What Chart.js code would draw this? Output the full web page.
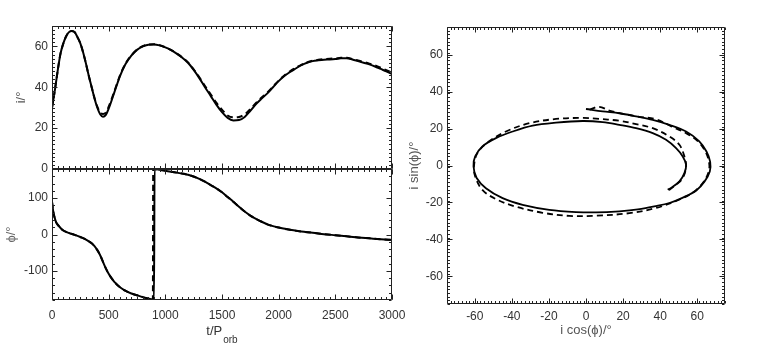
<!DOCTYPE html>
<html><head><meta charset="utf-8">
<script src="https://cdn.jsdelivr.net/npm/chart.js@4"></script>
<style>
html,body{margin:0;padding:0;background:#fff;}
#wrap{position:relative;width:763px;height:344px;overflow:hidden;background:#fff;}
canvas{position:absolute;left:0;top:0;}
</style></head><body>
<div id="wrap">
<canvas id="cI" width="763" height="344"></canvas>
<canvas id="cP" width="763" height="344"></canvas>
<canvas id="cXY" width="763" height="344"></canvas>
</div>
<script>
// ---- Top-left: inclination i vs t/P_orb ----
const tI = [0,25,50,75,100,125,150,175,200,225,250,275,300,325,350,375,400,425,450,475,500,550,600,650,700,750,800,850,900,950,1000,1050,1100,1150,1200,1250,1300,1350,1400,1450,1500,1550,1600,1650,1700,1750,1800,1850,1900,1950,2000,2050,2100,2150,2200,2250,2300,2350,2400,2450,2500,2550,2600,2650,2700,2750,2800,2850,2900,2950,3000];
const iSolid = [30,38.5,48,56.5,61.5,65,67,67.6,67,64.5,61.5,57,51.5,45.5,40,34.5,30,26.8,25.6,26.5,29.5,37.5,45.5,51.5,55.5,58.3,60,60.8,61,60.5,59.5,58.2,56.5,54.5,52,48.5,44.5,40,35.8,31.5,27.8,25,23.8,24,25.5,28.5,31.8,34.5,37,40,43,45.5,47.5,49.2,50.8,52,52.8,53.2,53.5,53.6,53.8,54.2,54.2,53.6,52.8,52,51.2,50.2,49,47.8,46.5];
const iDashed = [30,38.5,48,56.5,61.5,65,67,67.6,67,64.5,61.5,57,51.5,45.5,40,34.8,30.5,27.6,26.9,27.6,30.5,38,45.8,51.7,55.6,58.4,60.1,60.9,61.1,60.6,59.6,58.3,56.6,54.6,52.2,48.8,44.9,40.6,36.6,32.5,29,26.2,25.3,25.5,26.7,29.3,32.3,35,37.4,40.3,43.3,45.8,47.8,49.5,51,52.2,53,53.5,53.8,54,54.1,54.4,54.4,53.9,53.1,52.4,51.6,50.7,49.6,48.4,47.2];
const iTicks = [0,20,40,60];

// ---- Bottom-left: phase phi vs t/P_orb ----
const tPhiSolid = [0,10,20,35,50,75,100,150,200,250,300,350,375,400,425,450,475,500,525,550,600,650,700,750,800,850,900,905,950,1000,1100,1200,1300,1350,1400,1450,1500,1550,1600,1650,1700,1750,1800,1850,1900,1950,2000,2100,2200,2300,2400,2500,2600,2700,2800,2900,3000];
const phiSolid = [90,65,50,35,27,18,11,4,-1,-7,-14,-24,-32,-43,-57,-75,-93,-108,-120,-130,-145,-155,-162,-167,-172,-176,-179,180,178,175,170,164,153,145,136,127,116,103,90,76,63,52,43,35,28,23,19,13,8,5,1,-2,-5,-8,-10.5,-13,-15];
const tPhiDashed = [0,10,20,35,50,75,100,150,200,250,300,350,375,400,425,450,475,500,525,550,600,650,700,750,800,850,890,893,950,1000,1100,1200,1300,1350,1400,1450,1500,1550,1600,1650,1700,1750,1800,1850,1900,1950,2000,2100,2200,2300,2400,2500,2600,2700,2800,2900,3000];
const phiDashed = [90,65,50,35,27,18,11,4,-1,-7,-14,-24,-32,-43,-57,-75,-93,-108,-120,-130,-145,-155,-162,-167,-172,-176,-179,180,178,175,170,164,153,145,136,127,116,103,90,76,63,52,43,35,28,23,19,13,8,5,1,-2,-5,-8,-10.5,-13,-15];
const phiTicks = [-100,0,100];
const tTicks = [0,500,1000,1500,2000,2500,3000];

// ---- Right: i sin(phi) vs i cos(phi) ----
const xySolidX = [0,9,18,27,36,45,54,61,65,67,66.8,64,59.5,52,45,37.8,28,18,5.4,-5.4,-19.8,-34.2,-45,-54,-59,-60.7,-59.8,-55.9,-48.6,-39.6,-28.8,-16.2,-1.8,9,18,27,36,43.2,48.6,52.2,54,53.1,50.4,45.9,44.1];
const xySolidY = [30.6,29.3,28.3,26.6,24.7,22,18.4,13.2,7.6,2,-3.2,-8.6,-13.5,-17.5,-20.3,-22,-23.8,-24.8,-25.4,-25.2,-24,-21.3,-17.7,-12.3,-6.8,-0.5,4.9,10.3,14.8,18.4,21.6,23.2,24.1,23.5,22,20.2,17.5,13.9,9.4,4.9,0.4,-4.1,-8.6,-12.2,-13.1];
const xyDashedX = [2,7,13,20,28,37.8,46,54,60,64.5,66.5,66,63,57.5,48.6,37.8,23.4,5.4,-9,-23.4,-37.8,-48.6,-55.9,-59.8,-60.4,-58.6,-53.2,-43.2,-30.6,-16.2,-1.8,5.4,18,27,36,45,50.4,53.1,54,52.2,48.6,45,43.5];
const xyDashedY = [30.2,31.8,29.6,28,26.5,25,21.2,17.5,13.5,7.5,1,-4,-9.5,-14.8,-19.2,-23,-25.8,-27.2,-27.3,-25.6,-22.3,-18.2,-13.2,-5.9,0,6.7,12.4,18.4,22.9,25.2,25.8,25.4,24.2,22.4,20.2,15.7,11.2,4.9,-0.5,-6.8,-10.4,-13.1,-14];
const xyTicks = [-60,-40,-20,0,20,40,60];

Chart.defaults.font.family = '"Liberation Sans", Arial, Helvetica, sans-serif';
Chart.defaults.font.size = 12;
Chart.defaults.color = '#333';

const pts = (xs, ys) => xs.map((v, k) => ({x: v, y: ys[k]}));
const plain = v => String(v);

// Frame with inward major/minor ticks on all four sides (IDL style)
const frameTicks = {
  id: 'frameTicks',
  afterDatasetsDraw(chart, args, o) {
    const {ctx, chartArea: a, scales: {x: xs, y: ys}} = chart;
    ctx.save();
    ctx.strokeStyle = '#222';
    ctx.lineWidth = 1;
    ctx.beginPath();
    ctx.rect(Math.round(a.left) + 0.5, Math.round(a.top) + 0.5, Math.round(a.right) - Math.round(a.left) - 1, Math.round(a.bottom) - Math.round(a.top) - 1);
    ctx.stroke();
    const L = Math.round(a.left) + 0.5, R = Math.round(a.right) - 0.5, T = Math.round(a.top) + 0.5, B = Math.round(a.bottom) - 0.5;
    const xt = (v, len) => { const p = Math.round(xs.getPixelForValue(v)) + 0.5; ctx.moveTo(p, B); ctx.lineTo(p, B - len); ctx.moveTo(p, T); ctx.lineTo(p, T + len); };
    const yt = (v, len) => { const p = Math.round(ys.getPixelForValue(v)) + 0.5; ctx.moveTo(L, p); ctx.lineTo(L + len, p); ctx.moveTo(R, p); ctx.lineTo(R - len, p); };
    ctx.beginPath();
    for (let v = xs.min; v <= xs.max + 1e-9; v += o.xMinor) xt(v, 2.5);
    for (let v = ys.min; v <= ys.max + 1e-9; v += o.yMinor) yt(v, 2.5);
    o.xMajor.forEach(v => xt(v, 5));
    o.yMajor.forEach(v => yt(v, 5));
    ctx.stroke();
    ctx.restore();
  }
};

// x-axis title with subscript: t/P_orb
const subTitle = {
  id: 'subTitle',
  afterDraw(chart, args, o) {
    const {ctx, chartArea: a} = chart;
    ctx.save();
    ctx.fillStyle = '#333';
    ctx.textBaseline = 'alphabetic';
    ctx.textAlign = 'left';
    const ff = Chart.defaults.font.family;
    ctx.font = '13px ' + ff;
    const w1 = ctx.measureText(o.main).width;
    ctx.font = '10px ' + ff;
    const w2 = ctx.measureText(o.sub).width;
    const x0 = (a.left + a.right) / 2 - (w1 + w2 + 1) / 2;
    ctx.font = '13px ' + ff;
    ctx.fillText(o.main, x0, a.bottom + 35);
    ctx.font = '10px ' + ff;
    ctx.fillText(o.sub, x0 + w1 + 1, a.bottom + 42.5);
    ctx.restore();
  }
};

const solidStyle = {showLine: true, borderColor: '#000', backgroundColor: '#000', borderWidth: 2, pointRadius: 0};
const dashedStyle = {showLine: true, borderColor: '#000', backgroundColor: '#000', borderWidth: 2, pointRadius: 0, borderDash: [6, 4]};
const base = {responsive: false, animation: false, events: []};
const noGrid = {display: false, drawTicks: false};

new Chart(document.getElementById('cI'), {
  type: 'scatter',
  data: {datasets: [
    Object.assign({data: pts(tI, iSolid), cubicInterpolationMode: 'monotone'}, solidStyle),
    Object.assign({data: pts(tI, iDashed), cubicInterpolationMode: 'monotone'}, dashedStyle)
  ]},
  options: Object.assign({}, base, {
    layout: {padding: {left: 0, top: 26, right: 371, bottom: 175}},
    plugins: {legend: {display: false}, tooltip: {enabled: false},
      frameTicks: {xMajor: tTicks, xMinor: 50, yMajor: iTicks, yMinor: 2}},
    scales: {
      x: {type: 'linear', display: false, min: 0, max: 3000},
      y: {type: 'linear', min: 0, max: 70,
        afterFit: s => { s.width = 52; },
        afterBuildTicks: s => { s.ticks = iTicks.map(v => ({value: v})); },
        grid: noGrid, border: {display: false},
        ticks: {padding: 4, color: '#333', font: {size: 12}, callback: plain},
        title: {display: true, text: 'i/°', color: '#555', font: {size: 13}, padding: {top: 14, bottom: 0}}}
    }
  }),
  plugins: [frameTicks]
});

new Chart(document.getElementById('cP'), {
  type: 'scatter',
  data: {datasets: [
    Object.assign({data: pts(tPhiSolid, phiSolid), cubicInterpolationMode: 'monotone'}, solidStyle),
    Object.assign({data: pts(tPhiDashed, phiDashed), cubicInterpolationMode: 'monotone'}, dashedStyle)
  ]},
  options: Object.assign({}, base, {
    layout: {padding: {left: 0, top: 169, right: 371, bottom: 0}},
    plugins: {legend: {display: false}, tooltip: {enabled: false},
      frameTicks: {xMajor: tTicks, xMinor: 50, yMajor: phiTicks, yMinor: 20},
      subTitle: {main: 't/P', sub: 'orb'}},
    scales: {
      x: {type: 'linear', min: 0, max: 3000,
        afterFit: s => { s.height = 44; },
        afterBuildTicks: s => { s.ticks = tTicks.map(v => ({value: v})); },
        grid: noGrid, border: {display: false},
        ticks: {padding: 8, maxRotation: 0, autoSkip: false, color: '#333', font: {size: 12}, callback: plain}},
      y: {type: 'linear', min: -180, max: 180,
        afterFit: s => { s.width = 52; },
        afterBuildTicks: s => { s.ticks = phiTicks.map(v => ({value: v})); },
        grid: noGrid, border: {display: false},
        ticks: {padding: 4, color: '#333', font: {size: 12}, callback: plain},
        title: {display: true, text: 'ϕ/°', color: '#666', font: {size: 13}, padding: {top: 4, bottom: 0}}}
    }
  }),
  plugins: [frameTicks, subTitle]
});

new Chart(document.getElementById('cXY'), {
  type: 'scatter',
  data: {datasets: [
    Object.assign({data: pts(xySolidX, xySolidY), tension: 0.35}, solidStyle, {borderWidth: 1.8}),
    Object.assign({data: pts(xyDashedX, xyDashedY), tension: 0.35}, dashedStyle, {borderWidth: 1.8})
  ]},
  options: Object.assign({}, base, {
    layout: {padding: {left: 390, top: 27, right: 38, bottom: 0}},
    plugins: {legend: {display: false}, tooltip: {enabled: false},
      frameTicks: {xMajor: xyTicks, xMinor: 2, yMajor: xyTicks, yMinor: 2}},
    scales: {
      x: {type: 'linear', min: -75, max: 75,
        afterFit: s => { s.height = 40; },
        afterBuildTicks: s => { s.ticks = xyTicks.map(v => ({value: v})); },
        grid: noGrid, border: {display: false},
        ticks: {padding: 5, maxRotation: 0, autoSkip: false, color: '#333', font: {size: 12}, callback: plain},
        title: {display: true, text: 'i cos(ϕ)/°', color: '#555', font: {size: 13}, padding: {top: 0, bottom: 6}}},
      y: {type: 'linear', min: -75, max: 75,
        afterFit: s => { s.width = 57; },
        afterBuildTicks: s => { s.ticks = xyTicks.map(v => ({value: v})); },
        grid: noGrid, border: {display: false},
        ticks: {padding: 4, color: '#333', font: {size: 12}, callback: plain},
        title: {display: true, text: 'i sin(ϕ)/°', color: '#555', font: {size: 13}, padding: {top: 17, bottom: 0}}}
    }
  }),
  plugins: [frameTicks]
});
</script>
</body></html>
